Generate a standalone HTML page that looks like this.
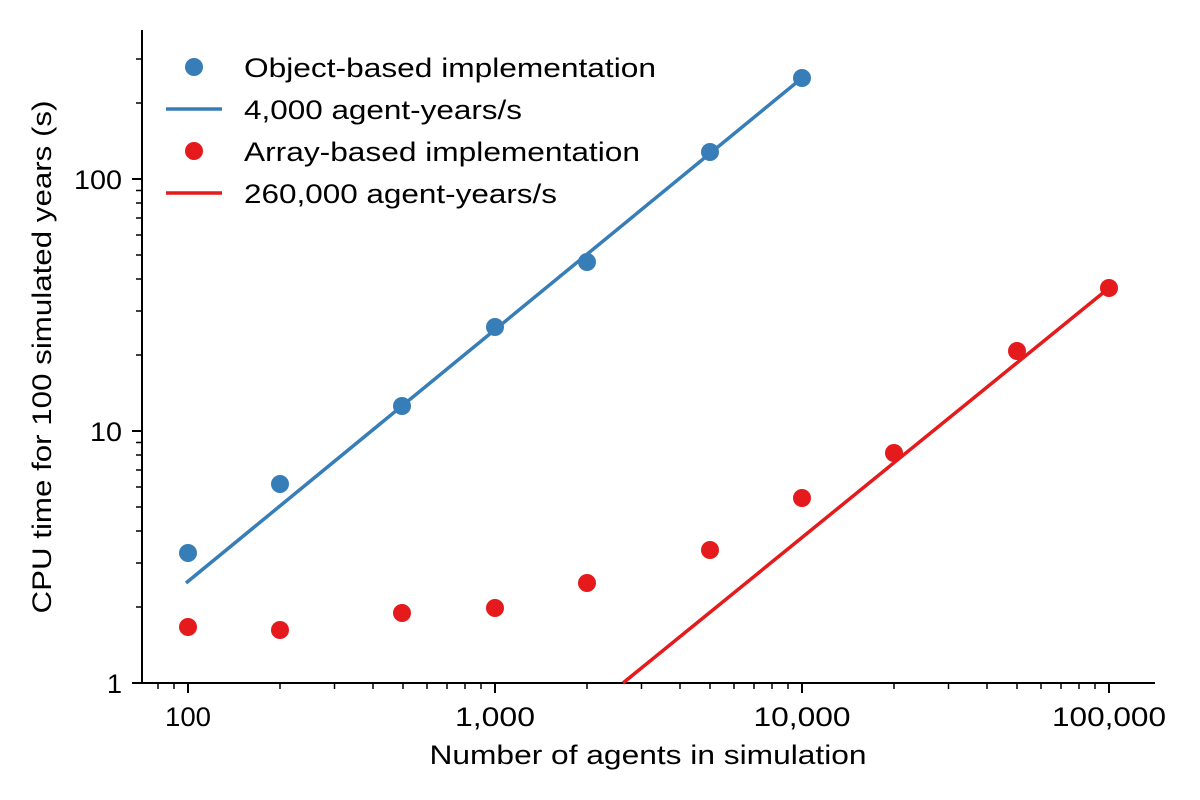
<!DOCTYPE html>
<html><head><meta charset="utf-8"><style>html,body{margin:0;padding:0;background:#fff}svg{display:block}text{font-family:"Liberation Sans","DejaVu Sans",sans-serif;fill:#000}</style></head>
<body>
<svg width="1200" height="800" viewBox="0 0 1200 800" xmlns="http://www.w3.org/2000/svg">
<g stroke="#000" stroke-width="2" fill="none">
<path d="M142 30 V683 H1155"/>
<path d="M188 683v10M495 683v10M802 683v10M1109 683v10"/>
<path stroke-width="1.5" d="M158 683v6M174 683v6M280 683v6M334.5 683v6M373 683v6M403 683v6M427 683v6M447 683v6M465 683v6M481 683v6M587 683v6M641.5 683v6M680 683v6M710 683v6M734 683v6M754 683v6M772 683v6M788 683v6M894 683v6M948.5 683v6M987 683v6M1017 683v6M1041 683v6M1061 683v6M1079 683v6M1095 683v6"/>
<path d="M132 683h10M132 431h10M132 179h10"/>
<path stroke-width="1.5" d="M136 607h6M136 563h6M136 531h6M136 507h6M136 487h6M136 470h6M136 455h6M136 442.5h6M136 355h6M136 311h6M136 279h6M136 255h6M136 235h6M136 218h6M136 203h6M136 190.5h6M136 103h6M136 59h6"/>
</g>
<g font-size="27">
<text x="188" y="726" text-anchor="middle" textLength="46" lengthAdjust="spacingAndGlyphs">100</text>
<text x="495" y="726" text-anchor="middle" textLength="80" lengthAdjust="spacingAndGlyphs">1,000</text>
<text x="802" y="726" text-anchor="middle" textLength="97" lengthAdjust="spacingAndGlyphs">10,000</text>
<text x="1109" y="726" text-anchor="middle" textLength="114" lengthAdjust="spacingAndGlyphs">100,000</text>
<text x="122" y="693" text-anchor="end">1</text>
<text x="122" y="441" text-anchor="end" textLength="32" lengthAdjust="spacingAndGlyphs">10</text>
<text x="122" y="189" text-anchor="end" textLength="48" lengthAdjust="spacingAndGlyphs">100</text>
<text x="648" y="764" text-anchor="middle" textLength="437" lengthAdjust="spacingAndGlyphs">Number of agents in simulation</text>
<text transform="translate(51,357) rotate(-90)" text-anchor="middle" textLength="513" lengthAdjust="spacingAndGlyphs">CPU time for 100 simulated years (s)</text>
</g>
<polyline points="186,583 802,78" stroke="#377eb8" stroke-width="3.5" fill="none"/>
<polyline points="623,683 1109,288" stroke="#e41a1c" stroke-width="3.5" fill="none"/>
<g fill="#377eb8">
<circle cx="188" cy="553" r="9"/><circle cx="280" cy="484" r="9"/><circle cx="402" cy="406" r="9"/><circle cx="495" cy="327" r="9"/><circle cx="587" cy="262" r="9"/><circle cx="710" cy="152" r="9"/><circle cx="802" cy="78" r="9"/>
</g>
<g fill="#e41a1c">
<circle cx="188" cy="627" r="9"/><circle cx="280" cy="630" r="9"/><circle cx="402" cy="613" r="9"/><circle cx="495" cy="608" r="9"/><circle cx="587" cy="583" r="9"/><circle cx="710" cy="550" r="9"/><circle cx="802" cy="498" r="9"/><circle cx="894" cy="453" r="9"/><circle cx="1017" cy="351" r="9"/><circle cx="1109" cy="288" r="9"/>
</g>
<circle cx="194" cy="67" r="9" fill="#377eb8"/>
<path d="M166 109h56" stroke="#377eb8" stroke-width="3.5"/>
<circle cx="194" cy="151" r="9" fill="#e41a1c"/>
<path d="M166 193h56" stroke="#e41a1c" stroke-width="3.5"/>
<g font-size="27">
<text x="244" y="77" textLength="412" lengthAdjust="spacingAndGlyphs">Object-based implementation</text>
<text x="244" y="119" textLength="278" lengthAdjust="spacingAndGlyphs">4,000 agent-years/s</text>
<text x="244" y="161" textLength="396" lengthAdjust="spacingAndGlyphs">Array-based implementation</text>
<text x="244" y="203" textLength="313" lengthAdjust="spacingAndGlyphs">260,000 agent-years/s</text>
</g>
</svg>
</body></html>
